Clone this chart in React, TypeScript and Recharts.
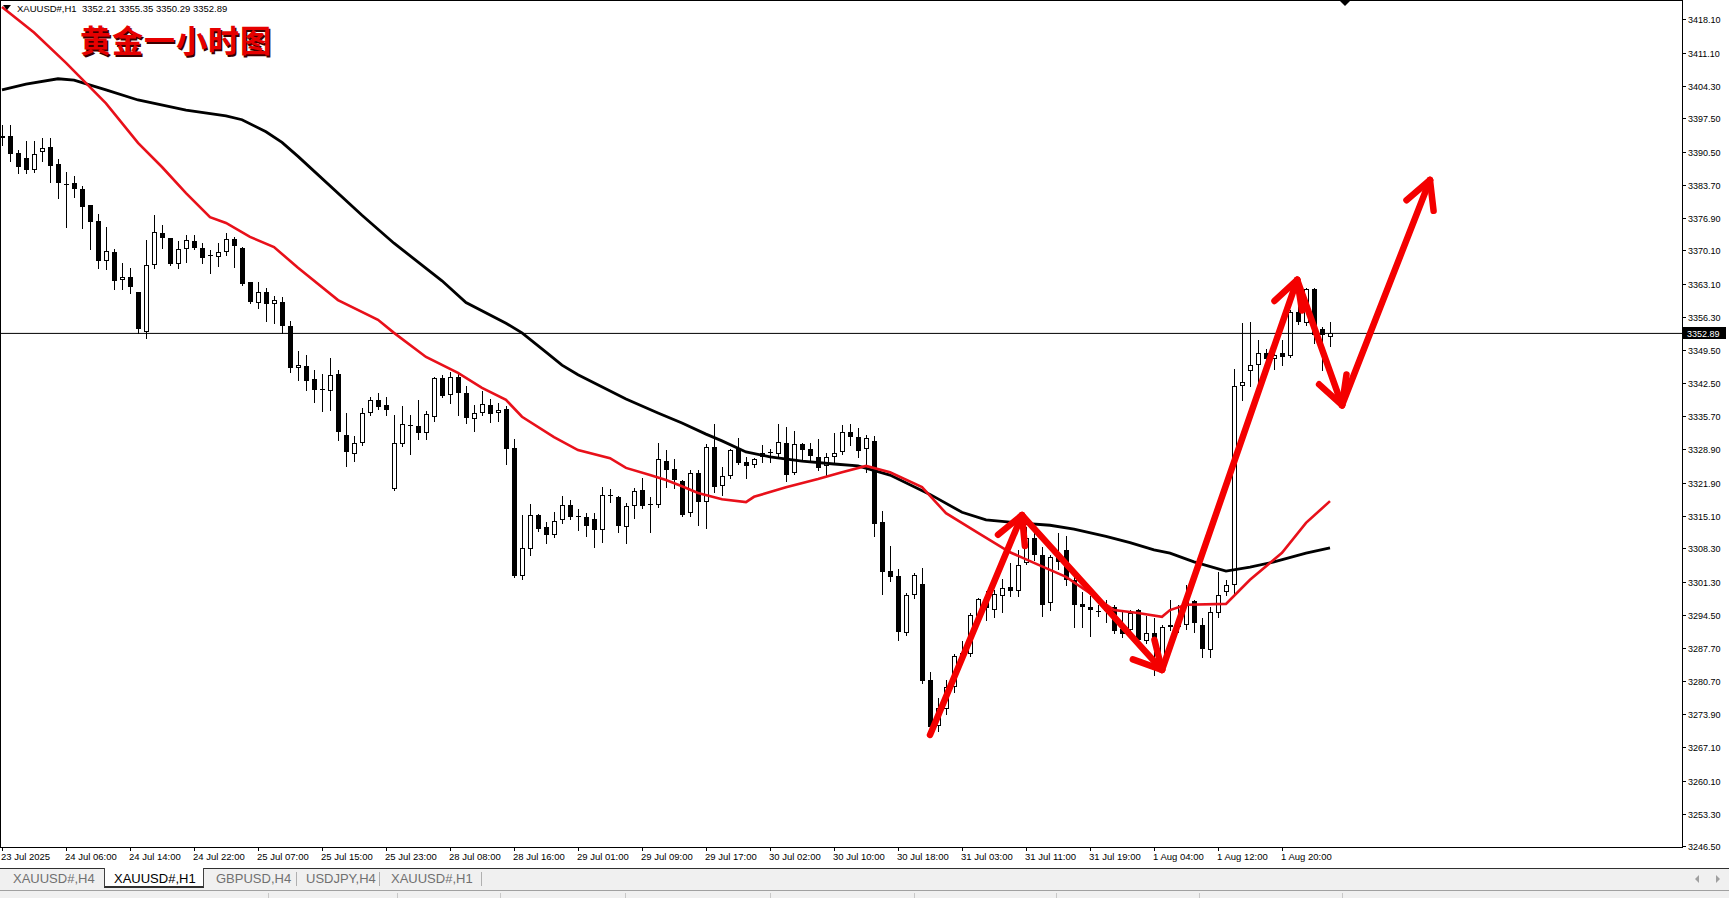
import React from "react";
import { ComposedChart, Bar, Line, XAxis, YAxis, ReferenceLine } from "recharts";

// XAUUSD#,H1 — bars 0..166
const OPEN = [
  3393.5, 3393.8, 3390.4, 3389.2, 3386.8, 3390.5, 3391.5, 3388.0, 3383.9, 3384.0,
  3382.8, 3379.5, 3376.2, 3368.0, 3369.7, 3363.9, 3364.5, 3361.4, 3353.2, 3367.1,
  3373.7, 3372.7, 3367.2, 3370.3, 3372.1, 3370.5, 3369.1, 3368.8, 3369.7, 3372.4,
  3370.7, 3363.6, 3359.1, 3361.4, 3359.0, 3359.3, 3354.4, 3345.8, 3346.1, 3343.4,
  3341.3, 3341.0, 3344.5, 3331.8, 3327.9, 3330.1, 3336.3, 3339.1, 3338.0, 3320.6,
  3329.9, 3333.9, 3333.7, 3332.3, 3335.6, 3343.6, 3340.1, 3343.8, 3340.5, 3335.1,
  3336.3, 3338.0, 3336.3, 3337.2, 3329.1, 3302.6, 3308.1, 3315.2, 3312.7, 3311.0,
  3314.1, 3317.4, 3315.0, 3314.8, 3314.4, 3312.1, 3319.2, 3318.9, 3312.7, 3317.0,
  3320.4, 3317.6, 3317.3, 3326.4, 3324.7, 3322.3, 3315.6, 3323.9, 3318.0, 3329.3,
  3321.2, 3323.4, 3329.2, 3326.2, 3325.5, 3327.3, 3328.2, 3327.8, 3330.2, 3323.9,
  3329.9, 3328.9, 3327.2, 3325.3, 3327.2, 3328.2, 3332.4, 3331.5, 3328.9, 3330.6,
  3313.7, 3303.6, 3302.6, 3290.7, 3298.6, 3300.9, 3281.0, 3271.5, 3275.0, 3279.6,
  3285.9, 3286.5, 3294.3, 3297.8, 3295.6, 3298.4, 3300.2, 3299.5, 3305.3, 3310.4,
  3306.9, 3296.9, 3306.5, 3308.0, 3301.8, 3296.7, 3296.2, 3295.4, 3295.6, 3296.2,
  3291.6, 3291.4, 3295.6, 3289.0, 3290.7, 3284.1, 3292.4, 3292.0, 3292.4, 3297.3,
  3292.4, 3287.2, 3295.0, 3299.2, 3300.7, 3341.9, 3345.1, 3346.3, 3348.8, 3347.5,
  3348.8, 3348.1, 3357.4, 3355.0, 3362.0, 3353.7, 3352.21,
];
const HIGH = [
  3396.1, 3396.1, 3390.9, 3392.8, 3392.8, 3393.4, 3393.4, 3389.0, 3386.4, 3385.5,
  3383.5, 3379.5, 3377.6, 3375.0, 3370.3, 3367.4, 3366.5, 3361.4, 3372.3, 3377.4,
  3375.4, 3372.7, 3372.1, 3373.4, 3373.3, 3371.6, 3370.2, 3371.6, 3373.8, 3372.9,
  3370.9, 3363.6, 3363.6, 3362.4, 3360.7, 3360.5, 3355.5, 3349.2, 3348.4, 3345.4,
  3344.5, 3347.7, 3345.3, 3336.3, 3331.6, 3337.4, 3339.8, 3340.5, 3339.6, 3336.0,
  3337.9, 3336.0, 3339.1, 3336.7, 3343.8, 3344.3, 3344.8, 3344.5, 3342.0, 3338.0,
  3341.0, 3339.2, 3338.5, 3337.9, 3330.9, 3315.2, 3317.5, 3315.4, 3313.8, 3315.9,
  3319.2, 3318.3, 3316.4, 3315.6, 3315.6, 3321.1, 3320.6, 3319.2, 3317.8, 3320.8,
  3322.8, 3319.0, 3330.2, 3328.7, 3326.8, 3322.5, 3324.6, 3324.6, 3330.0, 3334.2,
  3325.1, 3328.9, 3331.1, 3327.3, 3327.0, 3329.7, 3328.9, 3334.1, 3333.4, 3332.7,
  3330.1, 3330.2, 3330.9, 3328.0, 3332.3, 3333.9, 3334.2, 3333.2, 3331.8, 3331.6,
  3316.1, 3308.8, 3304.0, 3299.0, 3303.1, 3304.2, 3282.7, 3277.2, 3281.0, 3286.5,
  3289.0, 3294.8, 3298.0, 3299.5, 3299.7, 3301.9, 3305.3, 3308.0, 3312.8, 3312.8,
  3308.5, 3306.9, 3311.5, 3310.8, 3302.4, 3299.3, 3298.4, 3296.6, 3297.6, 3296.6,
  3295.6, 3295.6, 3295.8, 3294.2, 3293.8, 3292.4, 3297.6, 3296.5, 3300.7, 3297.6,
  3293.8, 3296.2, 3303.5, 3301.8, 3345.6, 3355.0, 3355.3, 3351.5, 3349.6, 3350.0,
  3351.5, 3357.7, 3363.8, 3362.3, 3362.3, 3354.3, 3355.35,
];
const LOW = [
  3392.0, 3388.7, 3386.2, 3386.2, 3386.4, 3388.7, 3384.2, 3381.0, 3375.0, 3381.2,
  3374.7, 3370.3, 3366.4, 3366.2, 3362.2, 3362.2, 3361.3, 3353.0, 3351.9, 3366.4,
  3370.5, 3367.0, 3366.4, 3367.6, 3370.3, 3367.4, 3365.4, 3366.9, 3369.2, 3366.6,
  3362.9, 3359.1, 3358.1, 3355.5, 3355.0, 3353.0, 3344.8, 3343.2, 3341.1, 3338.7,
  3336.7, 3337.0, 3330.8, 3325.3, 3326.5, 3329.8, 3336.0, 3337.3, 3336.0, 3320.4,
  3329.5, 3327.9, 3330.9, 3330.9, 3334.8, 3339.6, 3338.4, 3336.0, 3334.4, 3332.7,
  3336.0, 3334.6, 3334.8, 3325.9, 3302.3, 3302.0, 3306.9, 3312.0, 3309.4, 3310.6,
  3313.5, 3314.5, 3312.1, 3310.9, 3308.5, 3309.7, 3318.0, 3311.6, 3309.5, 3314.7,
  3316.6, 3311.6, 3316.9, 3321.1, 3320.8, 3315.0, 3315.1, 3313.2, 3312.5, 3320.1,
  3319.4, 3323.0, 3325.8, 3323.0, 3325.1, 3326.3, 3326.3, 3327.3, 3322.3, 3323.7,
  3326.6, 3326.3, 3324.6, 3323.5, 3325.9, 3327.8, 3329.7, 3327.2, 3324.2, 3310.9,
  3298.8, 3301.6, 3289.2, 3290.3, 3298.1, 3280.3, 3269.5, 3270.4, 3274.0, 3278.6,
  3285.0, 3285.9, 3293.8, 3293.5, 3294.0, 3295.2, 3298.4, 3298.4, 3305.0, 3305.9,
  3294.2, 3295.6, 3304.0, 3300.7, 3292.0, 3292.0, 3290.2, 3294.2, 3293.1, 3290.7,
  3290.0, 3290.5, 3288.3, 3288.7, 3282.1, 3283.4, 3291.4, 3291.0, 3291.5, 3291.0,
  3285.8, 3285.8, 3294.0, 3298.6, 3298.6, 3339.1, 3341.9, 3340.8, 3347.0, 3345.5,
  3346.4, 3347.9, 3354.8, 3354.6, 3350.8, 3345.3, 3350.29,
];
const CLOSE = [
  3393.8, 3390.0, 3387.3, 3386.8, 3390.2, 3391.4, 3387.7, 3384.0, 3383.8, 3382.8,
  3379.2, 3375.9, 3368.0, 3370.0, 3363.8, 3364.5, 3362.5, 3353.7, 3367.1, 3373.9,
  3372.6, 3367.2, 3370.3, 3372.2, 3370.5, 3368.6, 3369.0, 3369.7, 3372.4, 3371.1,
  3363.1, 3359.3, 3361.4, 3358.9, 3359.8, 3354.4, 3345.8, 3346.3, 3343.1, 3341.1,
  3341.2, 3344.3, 3332.5, 3328.2, 3330.1, 3336.3, 3339.1, 3337.7, 3336.9, 3330.1,
  3334.0, 3333.8, 3332.3, 3336.1, 3343.6, 3339.9, 3343.8, 3340.6, 3335.3, 3336.3,
  3338.2, 3336.1, 3336.9, 3328.9, 3302.6, 3308.3, 3315.2, 3312.3, 3311.1, 3314.0,
  3317.4, 3314.9, 3315.1, 3313.0, 3312.1, 3319.3, 3319.3, 3312.9, 3317.1, 3320.3,
  3317.1, 3317.5, 3326.8, 3324.6, 3322.5, 3315.2, 3323.9, 3318.0, 3329.3, 3321.1,
  3323.4, 3328.7, 3326.1, 3325.3, 3326.8, 3328.0, 3328.1, 3330.4, 3323.5, 3329.9,
  3328.7, 3327.5, 3325.0, 3327.3, 3328.0, 3332.5, 3331.5, 3328.6, 3331.1, 3313.3,
  3303.5, 3302.4, 3290.9, 3298.6, 3302.8, 3280.9, 3271.3, 3275.2, 3279.6, 3285.9,
  3286.7, 3294.4, 3297.8, 3296.0, 3298.9, 3300.0, 3299.5, 3304.9, 3310.4, 3306.9,
  3296.6, 3306.5, 3305.5, 3301.8, 3296.6, 3296.1, 3295.6, 3295.3, 3295.5, 3291.2,
  3290.5, 3294.8, 3289.3, 3290.7, 3288.6, 3292.1, 3291.9, 3293.5, 3297.3, 3292.8,
  3287.4, 3295.2, 3298.6, 3300.7, 3342.0, 3342.8, 3346.3, 3348.8, 3347.5, 3348.5,
  3347.9, 3357.4, 3355.2, 3362.0, 3352.6, 3352.5, 3352.89,
];

// moving averages: [bar, price] readings along each line
const RED_MA: [number, number][] = [
  [0, 3420.6], [4, 3415.3], [8, 3409.0], [13, 3400.6], [17, 3392.4], [20, 3387.4],
  [23, 3382.0], [26, 3377.0], [28, 3375.8], [31, 3372.9], [34, 3370.8], [37, 3366.5],
  [42, 3359.8], [47, 3355.7], [49, 3353.0], [53, 3348.0], [57, 3344.7], [60, 3341.6],
  [63, 3339.1], [65, 3335.6], [69, 3331.4], [72, 3328.7], [76, 3327.0], [78, 3325.0],
  [81, 3323.5], [83, 3322.5], [85, 3321.2], [87, 3319.8], [90, 3318.5], [93, 3317.9],
  [94, 3319.0], [98, 3321.0], [102, 3322.7], [105, 3324.1], [108, 3325.4], [111, 3324.1],
  [115, 3321.0], [118, 3315.6], [122, 3311.5], [126, 3307.5], [129, 3305.3], [133, 3302.4],
  [136, 3299.0], [139, 3295.5], [142, 3294.9], [145, 3294.1], [146, 3295.5], [148, 3296.6],
  [153, 3296.8], [156, 3301.8], [160, 3307.4], [163, 3313.6], [166, 3318.1],
];
const BLACK_MA: [number, number][] = [
  [0, 3403.4], [3, 3404.6], [7, 3405.7], [9, 3405.4], [13, 3403.4], [17, 3401.3],
  [23, 3399.2], [28, 3398.0], [30, 3397.2], [33, 3394.7], [35, 3392.5], [37, 3389.6],
  [45, 3377.4], [49, 3371.6], [55, 3363.8], [58, 3359.3], [63, 3355.0], [65, 3353.0],
  [68, 3349.0], [70, 3346.3], [72, 3344.3], [78, 3339.3], [82, 3336.4], [85, 3334.3],
  [88, 3332.0], [90, 3330.6], [93, 3328.3], [96, 3327.3], [100, 3326.4], [104, 3325.8],
  [107, 3325.4], [111, 3323.5], [116, 3319.5], [120, 3315.8], [123, 3314.2], [127, 3313.6],
  [131, 3313.1], [134, 3312.3], [138, 3310.8], [141, 3309.5], [144, 3308.0], [146, 3307.3],
  [149, 3305.5], [153, 3303.6], [156, 3304.4], [159, 3305.5], [163, 3307.3], [166, 3308.4],
];

const TIME_TICKS = [0, 8, 16, 24, 32, 40, 48, 56, 64, 72, 80, 88, 96, 104, 112, 120, 128, 136, 144, 152, 160];
const TIME_LABELS = [
  "23 Jul 2025", "24 Jul 06:00", "24 Jul 14:00", "24 Jul 22:00", "25 Jul 07:00", "25 Jul 15:00",
  "25 Jul 23:00", "28 Jul 08:00", "28 Jul 16:00", "29 Jul 01:00", "29 Jul 09:00", "29 Jul 17:00",
  "30 Jul 02:00", "30 Jul 10:00", "30 Jul 18:00", "31 Jul 03:00", "31 Jul 11:00", "31 Jul 19:00",
  "1 Aug 04:00", "1 Aug 12:00", "1 Aug 20:00",
];
const PRICE_TICKS = [
  3418.1, 3411.1, 3404.3, 3397.5, 3390.5, 3383.7, 3376.9, 3370.1, 3363.1, 3356.3, 3349.5, 3342.5, 3335.7,
  3328.9, 3321.9, 3315.1, 3308.3, 3301.3, 3294.5, 3287.7, 3280.7, 3273.9, 3267.1, 3260.1, 3253.3, 3246.5,
];

// hand-drawn zig-zag arrow (bar, price) vertices
const ARROW_X = [116, 127.5, 145, 161.9, 167.5, 178.5];
const ARROW_Y = [3269.6, 3315.2, 3283.1, 3364.0, 3338.0, 3384.7];

const TABS = ["XAUUSD#,H4", "XAUUSD#,H1", "GBPUSD,H4", "USDJPY,H4", "XAUUSD#,H1"];

const Y_MIN = 3246.37;
const Y_MAX = 3421.83;
const X_MIN = -0.125;
const X_MAX = 210;
const PX_X = 1681 / (X_MAX - X_MIN);
const PX_Y = 846 / (Y_MAX - Y_MIN);
const FONT = '"Liberation Sans", Arial, sans-serif';

const rows = OPEN.map((o, i) => ({
  i,
  range: [LOW[i], HIGH[i]],
  open: o,
  high: HIGH[i],
  low: LOW[i],
  close: CLOSE[i],
  red: null as number | null,
  black: null as number | null,
}));
RED_MA.forEach(([i, v]) => (rows[i].red = v));
BLACK_MA.forEach(([i, v]) => (rows[i].black = v));

function Candle(props: any) {
  const { x, width, payload } = props;
  let { y, height } = props;
  if (x == null || !payload) return null;
  if (height < 0) {
    y += height;
    height = -height;
  }
  const { open, close, high, low } = payload;
  const cx = Math.round(x + width / 2);
  const span = high - low;
  const py = (v: number) => (span > 0 ? y + ((high - v) / span) * height : y);
  const top = Math.round(Math.min(py(open), py(close)));
  const bot = Math.round(Math.max(py(open), py(close)));
  let body;
  if (bot - top < 2) {
    body = <line x1={cx - 2} x2={cx + 3} y1={top + 0.5} y2={top + 0.5} stroke="#000" />;
  } else if (close >= open) {
    body = <rect x={cx - 1.5} y={top + 0.5} width={4} height={bot - top - 1} fill="#fff" stroke="#000" />;
  } else {
    body = <rect x={cx - 2} y={top} width={5} height={bot - top} fill="#000" />;
  }
  return (
    <g>
      <line x1={cx + 0.5} x2={cx + 0.5} y1={Math.round(y)} y2={Math.round(y + height) + 1} stroke="#000" />
      {body}
    </g>
  );
}

function TimeTick(props: any) {
  const { x, y, payload } = props;
  const label = TIME_LABELS[TIME_TICKS.indexOf(payload.value)];
  const tx = Math.round(x);
  return (
    <g>
      <line x1={tx + 0.5} x2={tx + 0.5} y1={y} y2={y + 4} stroke="#000" />
      <text x={tx - 1} y={y + 13} fontSize={9.5} fontFamily={FONT} fill="#000">
        {label}
      </text>
    </g>
  );
}

function PriceTick(props: any) {
  const { x, y, payload } = props;
  const ty = Math.round(y);
  return (
    <g>
      <line x1={x} x2={x + 4} y1={ty + 0.5} y2={ty + 0.5} stroke="#000" />
      <text x={x + 6} y={ty + 3.5} fontSize={9} fontFamily={FONT} fill="#000">
        {Number(payload.value).toFixed(2)}
      </text>
    </g>
  );
}

function PriceTag(props: any) {
  const vb = props.viewBox || {};
  const x = (vb.x ?? 0) + (vb.width ?? 0) + 1;
  const y = Math.round(vb.y ?? 0);
  return (
    <g>
      <rect x={x} y={y - 6} width={43} height={12} fill="#000" />
      <text x={x + 4} y={y + 3.5} fontSize={9} fontFamily={FONT} fill="#fff">
        {CLOSE[CLOSE.length - 1].toFixed(2)}
      </text>
    </g>
  );
}

// two barbs at the end of a segment, in data units
function barbs(x0: number, y0: number, x1: number, y1: number) {
  const dx = (x1 - x0) * PX_X;
  const dy = -(y1 - y0) * PX_Y;
  const len = Math.hypot(dx, dy);
  const ux = -dx / len;
  const uy = -dy / len;
  const L = 31;
  return [28, -28].map((deg) => {
    const r = (deg * Math.PI) / 180;
    const bx = ux * Math.cos(r) - uy * Math.sin(r);
    const by = ux * Math.sin(r) + uy * Math.cos(r);
    return { x: x1 + (bx * L) / PX_X, y: y1 - (by * L) / PX_Y };
  });
}

const arrowSegs: { x: number; y: number }[][] = [];
for (let k = 0; k < ARROW_X.length - 1; k++) {
  const a = { x: ARROW_X[k], y: ARROW_Y[k] };
  const b = { x: ARROW_X[k + 1], y: ARROW_Y[k + 1] };
  arrowSegs.push([a, b]);
  barbs(a.x, a.y, b.x, b.y).forEach((p) => arrowSegs.push([b, p]));
}

export default function App() {
  return (
    <div style={{ position: "absolute", left: 0, top: 0, width: 1729, height: 898, background: "#fff", overflow: "hidden", fontFamily: FONT }}>
      <ComposedChart width={1729} height={868} data={rows} margin={{ top: 1, right: 0, bottom: 0, left: 1 }}>
        <XAxis
          dataKey="i"
          type="number"
          domain={[X_MIN, X_MAX]}
          allowDataOverflow
          ticks={TIME_TICKS}
          interval={0}
          tick={<TimeTick />}
          tickLine={false}
          axisLine={false}
          tickSize={0}
          tickMargin={0}
          height={21}
        />
        <YAxis
          orientation="right"
          type="number"
          domain={[Y_MIN, Y_MAX]}
          allowDataOverflow
          ticks={PRICE_TICKS}
          interval={0}
          tick={<PriceTick />}
          tickLine={false}
          axisLine={false}
          tickSize={0}
          tickMargin={0}
          width={47}
        />
        <ReferenceLine y={CLOSE[CLOSE.length - 1]} stroke="#000" strokeWidth={1} label={<PriceTag />} />
        <Line dataKey="black" stroke="#000" strokeWidth={2.8} dot={false} connectNulls isAnimationActive={false} />
        <Line dataKey="red" stroke="#e8101a" strokeWidth={2.6} dot={false} connectNulls isAnimationActive={false} />
        <Bar dataKey="range" barSize={5} shape={<Candle />} isAnimationActive={false} />
        {arrowSegs.map((seg, k) => (
          <ReferenceLine key={k} segment={seg} stroke="#f40000" strokeWidth={6.5} strokeLinecap="round" ifOverflow="visible" />
        ))}
      </ComposedChart>

      {/* chart frame */}
      <div style={{ position: "absolute", left: 0, top: 0, width: 1683, height: 848, border: "1px solid #000", boxSizing: "border-box", pointerEvents: "none" }} />

      {/* header line */}
      <svg style={{ position: "absolute", left: 3, top: 5 }} width={8} height={6}>
        <polygon points="0,0 8,0 4,5" fill="#000" />
      </svg>
      <div style={{ position: "absolute", left: 17, top: 3, fontSize: 9.5, color: "#000", whiteSpace: "pre" }}>
        {"XAUUSD#,H1  " + [OPEN, HIGH, LOW, CLOSE].map((a) => a[a.length - 1].toFixed(2)).join(" ")}
      </div>
      <div
        style={{
          position: "absolute",
          left: 80,
          top: 19,
          fontSize: 31,
          fontWeight: 700,
          fontFamily: '"Noto Sans CJK SC", sans-serif',
          color: "#e60000",
          textShadow: "1.5px 1.5px 0 #3a0000",
          lineHeight: "40px",
          letterSpacing: 1,
        }}
      >
        黄金一小时图
      </div>

      {/* chart shift marker */}
      <svg style={{ position: "absolute", left: 1340, top: 1 }} width={10} height={6}>
        <polygon points="0,0 10,0 5,5" fill="#000" />
      </svg>

      {/* tab bar */}
      <div style={{ position: "absolute", left: 0, top: 868, width: 1729, height: 22, background: "#f0f0f0", borderTop: "1px solid #303030", boxSizing: "border-box" }} />
      <div style={{ position: "absolute", left: 104, top: 868, width: 100, height: 20, background: "#fff", borderLeft: "1px solid #404040", borderRight: "1px solid #404040", borderBottom: "2px solid #303030", boxSizing: "border-box" }} />
      {TABS.map((t, k) => (
        <div
          key={k}
          style={{ position: "absolute", left: [13, 114, 216, 306, 391][k], top: 871, fontSize: 13, color: k === 1 ? "#000" : "#707070", whiteSpace: "nowrap" }}
        >
          {t}
        </div>
      ))}
      {[296, 379, 481].map((sx) => (
        <div key={sx} style={{ position: "absolute", left: sx, top: 872, width: 1, height: 14, background: "#b0b0b0" }} />
      ))}
      <svg style={{ position: "absolute", left: 1694, top: 875 }} width={30} height={9}>
        <polygon points="5,0 5,8 1,4" fill="#a0a0a0" />
        <polygon points="22,0 22,8 26,4" fill="#a0a0a0" />
      </svg>
      <div style={{ position: "absolute", left: 0, top: 890, width: 1729, height: 8, background: "#f0f0f0", borderTop: "1px solid #a0a0a0", boxSizing: "border-box" }} />
      {[268, 397, 500, 625, 770, 914, 1056, 1199, 1342].map((sx) => (
        <div key={sx} style={{ position: "absolute", left: sx, top: 893, width: 1, height: 5, background: "#c8c8c8" }} />
      ))}
    </div>
  );
}
